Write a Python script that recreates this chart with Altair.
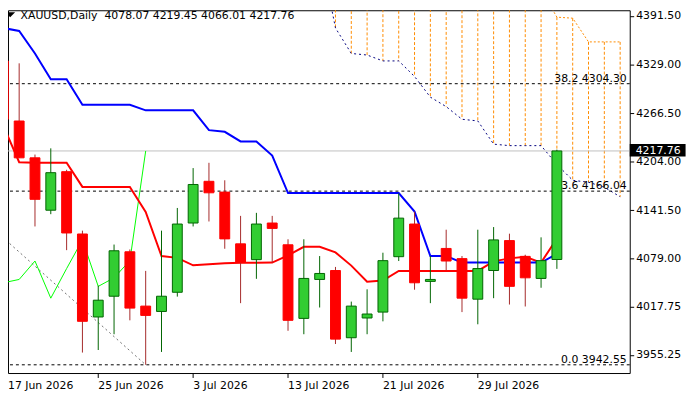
import altair as alt
import pandas as pd

# ---------------- data ----------------
bar_idx = list(range(36))
opens = [4333.5, 4256.3, 4208.9, 4141.5, 4191.1, 4110.9, 4004.1, 4030.8, 4088.0, 4018.1,
         4011.2, 4035.9, 4125.0, 4178.7, 4164.8, 4098.2, 4077.9, 4125.0, 4097.0, 4002.3,
         4052.4, 4063.9, 3977.4, 4002.8, 4010.4, 4081.7, 4123.7, 4049.9, 4092.3, 4079.2,
         4027.0, 4063.9, 4102.4, 4082.1, 4053.7, 4078.07]
highs = [4381.4, 4330.5, 4213.1, 4221.1, 4193.5, 4115.2, 4044.3, 4097.3, 4091.0, 4063.4,
         4115.2, 4144.4, 4195.7, 4202.5, 4180.0, 4134.2, 4138.1, 4134.2, 4104.1, 4104.1,
         4082.5, 4068.5, 4023.9, 4039.7, 4086.8, 4163.1, 4139.7, 4082.5, 4116.4, 4082.5,
         4116.4, 4119.8, 4111.3, 4084.2, 4106.6, 4219.45]
lows = [4218.2, 4208.9, 4120.6, 4136.4, 4090.1, 3958.3, 3961.6, 3981.9, 3999.8, 3942.55,
        3959.1, 4030.3, 4120.6, 4127.0, 4091.9, 4021.9, 4053.2, 4074.1, 3986.3, 3981.9,
        4016.3, 3969.3, 3959.1, 3981.9, 3998.5, 4076.1, 4039.2, 4021.9, 4064.3, 4010.4,
        3994.7, 4028.3, 4020.1, 4017.6, 4041.7, 4066.01]
closes = [4258.5, 4208.9, 4155.5, 4189.8, 4112.2, 3998.5, 4025.7, 4089.3, 4015.5, 4006.1,
          4030.8, 4123.7, 4174.6, 4163.9, 4104.6, 4074.1, 4123.7, 4118.1, 3999.8, 4053.7,
          4060.1, 3975.6, 4018.1, 4007.9, 4076.6, 4131.3, 4048.1, 4052.4, 4076.1, 4028.3,
          4066.4, 4103.3, 4043.5, 4054.5, 4076.6, 4217.76]

kijun = [4376.0, 4372.1, 4343.2, 4310.1, 4310.1, 4277.1, 4277.1, 4277.1, 4277.1, 4270.0,
         4270.0, 4270.0, 4270.0, 4244.5, 4242.4, 4230.0, 4230.0, 4211.8, 4163.5, 4163.5,
         4163.5, 4163.5, 4163.5, 4163.5, 4163.5, 4163.5, 4139.7, 4082.5, 4082.5, 4074.1,
         4074.1, 4074.1, 4074.1, 4074.1, 4074.1, 4085.3]
tenkan = [4250.0, 4203.3, 4202.5, 4202.5, 4202.5, 4171.5, 4171.5, 4171.5, 4171.5, 4139.3,
          4082.5, 4080.2, 4070.6, 4071.9, 4073.2, 4073.8, 4073.8, 4074.1, 4083.4, 4094.4,
          4094.4, 4087.2, 4070.2, 4049.4, 4051.0, 4063.4, 4063.4, 4063.4, 4063.4, 4063.4,
          4063.4, 4075.7, 4079.5, 4081.5, 4074.1, 4105.0]
chikou_shift = 26

cloud_idx = list(range(20, 40))
span_a = [4478, 4476, 4474, 4472, 4470, 4468, 4466, 4464, 4460, 4456,
          4452, 4448, 4444, 4438, 4425.5, 4389.9, 4388.6, 4358.1, 4358.1, 4358.1]
span_b = [4478, 4376.0, 4343.2, 4341.2, 4333.6, 4333.6, 4313.6, 4287.0, 4274.8, 4258.5,
          4256.4, 4226.5, 4224.6, 4224.6, 4224.6, 4200.4, 4180.0, 4177.5, 4171.1, 4158.8]

fib_levels = [4304.30, 4166.04, 3942.55]
fib_labels = ["38.2 4304.30", "23.6 4166.04", "0.0 3942.55"]
trend_idx = [-1, 9]
trend_price = [4124.0, 3942.55]
bid = 4217.76

xtick_idx = [0, 6, 12, 18, 24, 30]
xtick_labels = ["17 Jun 2026", "25 Jun 2026", "3 Jul 2026", "13 Jul 2026", "21 Jul 2026", "29 Jul 2026"]
ytick_values = [3955.25, 4017.75, 4079.00, 4141.50, 4204.00, 4266.50, 4329.00, 4391.50]
symbol = "XAUUSD,Daily"

# ---------------- frames ----------------
candles = pd.DataFrame({"i": bar_idx, "o": opens, "h": highs, "l": lows, "c": closes})
ind = pd.DataFrame({"i": bar_idx, "kijun": kijun, "tenkan": tenkan})
chik = pd.DataFrame({"i": bar_idx[:len(bar_idx) - chikou_shift],
                     "v": closes[chikou_shift:]})
cloud = pd.DataFrame({"i": cloud_idx, "a": span_a, "b": span_b})
fib = pd.DataFrame({"lvl": fib_levels, "lab": fib_labels})
trend = pd.DataFrame({"i": trend_idx, "p": trend_price})
bid_df = pd.DataFrame({"p": [bid], "t": [f"{bid:.2f}"]})
xt = pd.DataFrame({"i": xtick_idx, "lab": xtick_labels})
title_df = pd.DataFrame({"t": [symbol + "\u00a0 " + " ".join(f"{v:.2f}" for v in
                                (opens[-1], highs[-1], lows[-1], closes[-1]))]})

FONT = "DejaVu Sans"
X_MIN, X_MAX = 0.294, 39.606
xs = alt.Scale(domain=[X_MIN, X_MAX], nice=False, zero=False, padding=0)
ys = alt.Scale(domain=[3931.98, 4398.80], nice=False, zero=False, padding=0)

y_axis = alt.Axis(orient="right", values=ytick_values, format=".2f", title=None, grid=False,
                  domain=False, ticks=True, tickColor="black", tickSize=4, labelPadding=2,
                  labelFont=FONT, labelFontSize=11, labelColor="black", labelBaseline="middle",
                  labelOverlap=False, labelFlush=False)


def X(f):
    return alt.X(f, type="quantitative", scale=xs, axis=None)


def Y(f):
    return alt.Y(f, type="quantitative", scale=ys, axis=y_axis)


ORANGE = "#ff8c00"

hatch = alt.Chart(cloud).mark_rule(clip=True, color=ORANGE, strokeWidth=1, strokeDash=[3, 2]).encode(
    x=X("i"), y=Y("a"), y2=alt.Y2("b"))
span_a_line = alt.Chart(cloud).mark_line(clip=True, color=ORANGE, strokeWidth=1, strokeDash=[2, 2]).encode(
    x=X("i"), y=Y("a"))
span_b_line = alt.Chart(cloud).mark_line(clip=True, color="#000080", strokeWidth=1, strokeDash=[2, 3]).encode(
    x=X("i"), y=Y("b"))
fib_lines = alt.Chart(fib).mark_rule(color="black", strokeWidth=1, strokeDash=[3, 3]).encode(y=Y("lvl"))
bid_line = alt.Chart(bid_df).mark_rule(color="#c0c0c0", strokeWidth=1).encode(y=Y("p"))
trend_line = alt.Chart(trend).mark_line(clip=True, color="#707070", strokeWidth=1, strokeDash=[2, 3]).encode(
    x=X("i"), y=Y("p"))
fib_text = alt.Chart(fib).mark_text(align="right", baseline="alphabetic", dy=-2, font=FONT,
                                    fontSize=11, color="black").encode(
    x=alt.value(626), y=Y("lvl"), text="lab:N")
chikou_line = alt.Chart(chik).mark_line(clip=True, color="#00ff00", strokeWidth=1).encode(
    x=X("i"), y=Y("v"))
tenkan_line = alt.Chart(ind).mark_line(clip=True, color="#ff0000", strokeWidth=2).encode(
    x=X("i"), y=Y("tenkan"))
kijun_line = alt.Chart(ind).mark_line(clip=True, color="#0000ff", strokeWidth=2).encode(
    x=X("i"), y=Y("kijun"))

up = "datum.c >= datum.o"
wicks = alt.Chart(candles).mark_rule(clip=True, strokeWidth=1).encode(
    x=X("i"), y=Y("l"), y2=alt.Y2("h"),
    color=alt.condition(up, alt.value("#006400"), alt.value("#a52a2a")))
bodies = alt.Chart(candles).mark_bar(clip=True, size=10, strokeWidth=1).encode(
    x=X("i"), y=Y("o"), y2=alt.Y2("c"),
    fill=alt.condition(up, alt.value("#32cd32"), alt.value("#ff0000")),
    stroke=alt.condition(up, alt.value("#006400"), alt.value("#ff0000")))

# date axis (ticks + labels); a label whose bar lies left of the frame starts at the frame
x_ticks = alt.Chart(xt).transform_filter(f"datum.i >= {X_MIN}").mark_rule(
    color="black", strokeWidth=1).encode(
    x=X("i"), y=alt.value(367), y2=alt.value(372))
x_labels = alt.Chart(xt).transform_calculate(
    lx=f"max(datum.i, {X_MIN})").mark_text(
    align="left", baseline="alphabetic", font=FONT, fontSize=11, color="black").encode(
    x=X("lx:Q"), y=alt.value(383.6), text="lab:N")

title_text = alt.Chart(title_df).mark_text(align="left", baseline="alphabetic", font=FONT,
                                           fontSize=11, color="black").encode(
    x=alt.value(12.7), y=alt.value(8.6), text="t:N")
tri = alt.Chart(title_df).mark_point(shape="M-1,-0.5L1,-0.5L0,0.5Z", size=100, filled=True,
                                     color="black", opacity=1).encode(
    x=alt.value(2.2), y=alt.value(4.6))

bid_box = alt.Chart(bid_df).transform_calculate(
    top="datum.p + 8.9", bot="datum.p - 7.3").mark_rect(color="black").encode(
    x=alt.value(629), x2=alt.value(685.5), y=Y("top:Q"), y2=alt.Y2("bot:Q"))
bid_text = alt.Chart(bid_df).mark_text(align="left", baseline="middle", font=FONT, fontSize=11,
                                       color="white").encode(
    x=alt.value(635), y=Y("p"), text="t:N")

chart = alt.layer(
    hatch, span_a_line, span_b_line, fib_lines, bid_line, trend_line, fib_text,
    chikou_line, tenkan_line, kijun_line, wicks, bodies, x_ticks, x_labels,
    title_text, tri, bid_box, bid_text
).properties(
    width=629, height=367, autosize="none",
    padding={"left": 0, "top": 0, "right": 63, "bottom": 25},
    background="white"
).configure_view(stroke="black", strokeWidth=1)

chart.save("out.html", embed_options={"renderer": "svg", "actions": False})
